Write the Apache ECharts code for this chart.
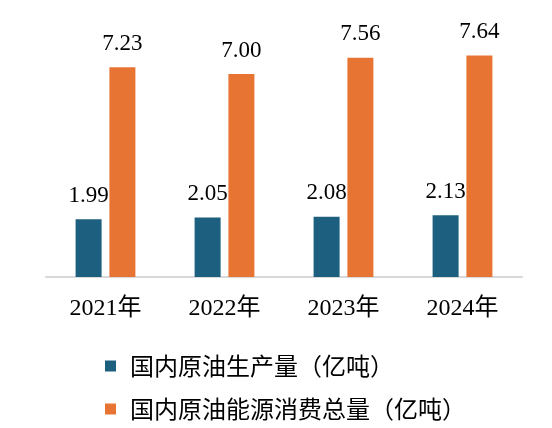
<!DOCTYPE html>
<html>
<head>
<meta charset="utf-8">
<script src="https://cdn.jsdelivr.net/npm/echarts@6/dist/echarts.min.js"></script>
<style>
  html, body { margin: 0; padding: 0; background: #fff; }
  #chart { width: 552px; height: 428px; }
</style>
</head>
<body>
<div id="chart"></div>
<script>
// 年份与两组数据（亿吨）
var years = ['2021年', '2022年', '2023年', '2024年'];
var production = [1.99, 2.05, 2.08, 2.13];
var consumption = [7.23, 7.00, 7.56, 7.64];
var seriesNames = ['国内原油生产量（亿吨）', '国内原油能源消费总量（亿吨）'];

var SERIF = '"Times New Roman", "Liberation Serif", "Noto Sans CJK SC", serif';

function valueLabel() {
    return {
        show: true,
        position: 'top',
        distance: 12,
        color: '#000',
        fontFamily: SERIF,
        fontSize: 23,
        formatter: function (p) { return p.value.toFixed(2); }
    };
}

var myChart = echarts.init(document.getElementById('chart'));
myChart.setOption({
    animation: false,
    grid: { left: 46, right: 30, top: 45, bottom: 151 },
    legend: {
        orient: 'vertical',
        left: 100,
        top: 349,
        itemWidth: 11,
        itemHeight: 11,
        itemGap: 19,
        icon: 'rect',
        textStyle: {
            fontFamily: '"Noto Sans CJK SC", sans-serif',
            fontSize: 24,
            color: '#000',
            padding: [0, 0, 0, 9]
        },
        data: seriesNames
    },
    xAxis: {
        type: 'category',
        data: years,
        axisLine: { lineStyle: { color: '#d9d9d9', width: 2 } },
        axisTick: { show: false },
        axisLabel: {
            color: '#000',
            fontFamily: SERIF,
            fontSize: 24,
            margin: 20
        }
    },
    yAxis: {
        type: 'value',
        min: 0,
        max: 8,
        show: false,
        splitLine: { show: false }
    },
    series: [
        {
            name: seriesNames[0],
            type: 'bar',
            data: production,
            barWidth: 26,
            barGap: '30%',
            itemStyle: { color: '#1c5f7e' },
            label: valueLabel()
        },
        {
            name: seriesNames[1],
            type: 'bar',
            data: consumption,
            barWidth: 26,
            itemStyle: { color: '#e87434' },
            label: valueLabel()
        }
    ]
});
</script>
</body>
</html>
